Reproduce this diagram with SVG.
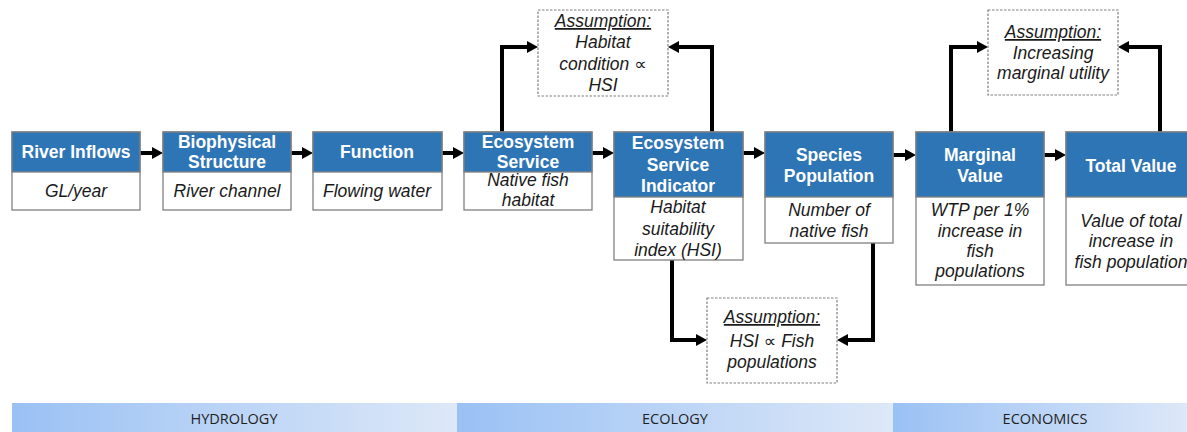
<svg xmlns="http://www.w3.org/2000/svg" width="1187" height="432" viewBox="0 0 1187 432">
<style>
.box{fill:#fff;stroke:#808080;stroke-width:1.3}
.hd{fill:#2E75B6;stroke:#808080;stroke-width:1.3}
.ht{font-family:"Liberation Sans",Arial,sans-serif;font-weight:bold;font-size:17.5px;fill:#fff;text-anchor:middle}
.bt{font-family:"Liberation Sans",Arial,"DejaVu Sans",sans-serif;font-style:italic;font-size:17.5px;fill:#1a1a1a;text-anchor:middle}
.asm{fill:#fff;stroke:#808080;stroke-width:1.2;stroke-dasharray:2.5 1.5}
.u{text-decoration:underline}
.con{fill:none;stroke:#000;stroke-width:4;stroke-linejoin:miter}
.bar{font-family:"Open Sans","Liberation Sans",sans-serif;font-size:14.5px;fill:#1f1f1f;text-anchor:middle}
</style>
<defs>
<marker id="ah" markerUnits="userSpaceOnUse" markerWidth="12" markerHeight="13" refX="6" refY="6.5" orient="auto">
<path d="M0,0.5 L11,6.5 L0,12.5 z" fill="#000"/>
</marker>
<linearGradient id="g" x1="0" y1="0" x2="1" y2="0">
<stop offset="0" stop-color="#9AC1F4"/>
<stop offset="1" stop-color="#DDE8F8"/>
</linearGradient>
</defs>

<g id="bars">
<rect x="12" y="403" width="445" height="29" fill="url(#g)"/>
<rect x="457" y="403" width="436" height="29" fill="url(#g)"/>
<rect x="893" y="403" width="294" height="29" fill="url(#g)"/>
<text class="bar" x="234" y="424">HYDROLOGY</text>
<text class="bar" x="675" y="424">ECOLOGY</text>
<text class="bar" x="1045" y="424">ECONOMICS</text>
</g>

<g id="connectors">
<path class="con" d="M140,153 H158" marker-end="url(#ah)"/>
<path class="con" d="M291,153 H308" marker-end="url(#ah)"/>
<path class="con" d="M442,153 H459" marker-end="url(#ah)"/>
<path class="con" d="M592,153 H609" marker-end="url(#ah)"/>
<path class="con" d="M743,153 H760" marker-end="url(#ah)"/>
<path class="con" d="M893,155 H911" marker-end="url(#ah)"/>
<path class="con" d="M1044,155 H1061" marker-end="url(#ah)"/>
<path class="con" d="M502,132 V47 H533" marker-end="url(#ah)"/>
<path class="con" d="M712,132 V47 H673" marker-end="url(#ah)"/>
<path class="con" d="M951,132 V47 H983" marker-end="url(#ah)"/>
<path class="con" d="M1160,132 V47 H1123" marker-end="url(#ah)"/>
<path class="con" d="M672,260 V340 H702" marker-end="url(#ah)"/>
<path class="con" d="M873,243 V340 H842" marker-end="url(#ah)"/>
</g>

<g id="river-inflows">
<rect class="box" x="12" y="132" width="128" height="78"/>
<rect class="hd" x="12" y="132" width="128" height="40"/>
<text class="ht" x="76" y="158">River Inflows</text>
<text class="bt" x="76" y="197">GL/year</text>
</g>

<g id="biophysical-structure">
<rect class="box" x="163" y="132" width="128" height="78"/>
<rect class="hd" x="163" y="132" width="128" height="40"/>
<text class="ht" x="227" y="148">Biophysical</text>
<text class="ht" x="227" y="168">Structure</text>
<text class="bt" x="227" y="197">River channel</text>
</g>

<g id="function">
<rect class="box" x="313" y="132" width="129" height="78"/>
<rect class="hd" x="313" y="132" width="129" height="40"/>
<text class="ht" x="377" y="158">Function</text>
<text class="bt" x="377" y="197">Flowing water</text>
</g>

<g id="ecosystem-service">
<rect class="box" x="464" y="132" width="128" height="78"/>
<rect class="hd" x="464" y="132" width="128" height="40"/>
<text class="ht" x="528" y="148">Ecosystem</text>
<text class="ht" x="528" y="168">Service</text>
<text class="bt" x="528" y="186">Native fish</text>
<text class="bt" x="528" y="206">habitat</text>
</g>

<g id="ecosystem-service-indicator">
<rect class="box" x="614" y="132" width="129" height="128"/>
<rect class="hd" x="614" y="132" width="129" height="65"/>
<text class="ht" x="678" y="149">Ecosystem</text>
<text class="ht" x="678" y="171">Service</text>
<text class="ht" x="678" y="192">Indicator</text>
<text class="bt" x="678" y="213">Habitat</text>
<text class="bt" x="678" y="235">suitability</text>
<text class="bt" x="678" y="256">index (HSI)</text>
</g>

<g id="species-population">
<rect class="box" x="765" y="132" width="128" height="111"/>
<rect class="hd" x="765" y="132" width="128" height="65"/>
<text class="ht" x="829" y="161">Species</text>
<text class="ht" x="829" y="182">Population</text>
<text class="bt" x="829" y="216">Number of</text>
<text class="bt" x="829" y="237">native fish</text>
</g>

<g id="marginal-value">
<rect class="box" x="916" y="132" width="128" height="153"/>
<rect class="hd" x="916" y="132" width="128" height="65"/>
<text class="ht" x="980" y="161">Marginal</text>
<text class="ht" x="980" y="182">Value</text>
<text class="bt" x="980" y="216">WTP per 1%</text>
<text class="bt" x="980" y="237">increase in</text>
<text class="bt" x="980" y="257">fish</text>
<text class="bt" x="980" y="277">populations</text>
</g>

<g id="total-value">
<rect class="box" x="1066" y="132" width="130" height="153"/>
<rect class="hd" x="1066" y="132" width="130" height="65"/>
<text class="ht" x="1131" y="172">Total Value</text>
<text class="bt" x="1131" y="227">Value of total</text>
<text class="bt" x="1131" y="247">increase in</text>
<text class="bt" x="1131" y="268">fish population</text>
</g>

<g id="assumption-habitat">
<rect class="asm" x="538" y="10" width="130" height="86"/>
<text class="bt u" x="603" y="27">Assumption:</text>
<text class="bt" x="603" y="48">Habitat</text>
<text class="bt" x="603" y="70">condition ∝</text>
<text class="bt" x="603" y="91">HSI</text>
</g>

<g id="assumption-fish">
<rect class="asm" x="707" y="298" width="130" height="85"/>
<text class="bt u" x="772" y="323">Assumption:</text>
<text class="bt" x="772" y="347">HSI ∝ Fish</text>
<text class="bt" x="772" y="368">populations</text>
</g>

<g id="assumption-utility">
<rect class="asm" x="988" y="10" width="130" height="85"/>
<text class="bt u" x="1053" y="38">Assumption:</text>
<text class="bt" x="1053" y="59">Increasing</text>
<text class="bt" x="1053" y="79">marginal utility</text>
</g>
</svg>
